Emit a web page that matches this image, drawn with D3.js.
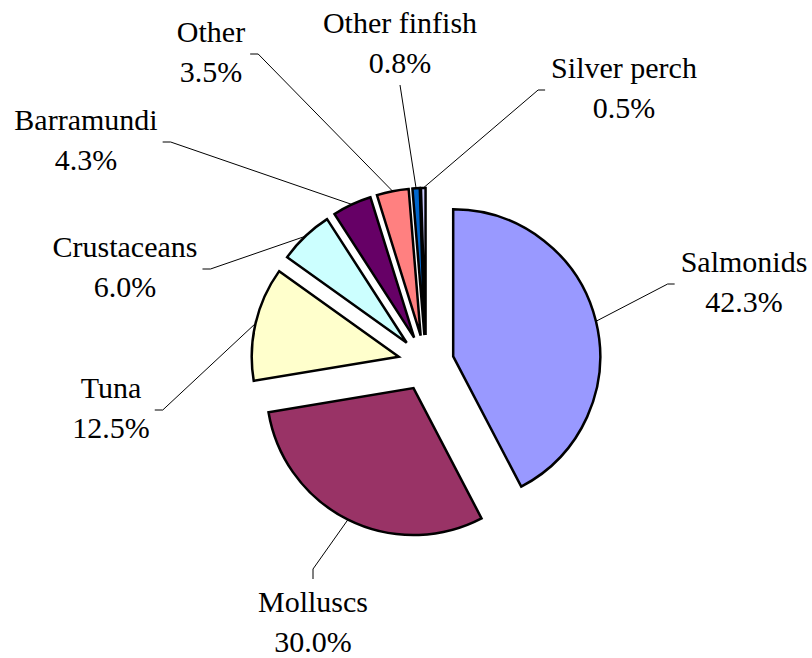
<!DOCTYPE html>
<html>
<head>
<meta charset="utf-8">
<script src="https://cdn.jsdelivr.net/npm/d3@7"></script>
<style>
  body{margin:0;background:#fff}
  svg{display:block}
</style>
</head>
<body>
<script>
var categories=["Salmonids","Molluscs","Tuna","Crustaceans","Barramundi","Other","Other finfish","Silver perch"]
var shares=[42.3,30.0,12.5,6.0,4.3,3.5,0.8,0.5]
var pctLabels=["42.3%","30.0%","12.5%","6.0%","4.3%","3.5%","0.8%","0.5%"]
var colors=["#9999FF","#993366","#FFFFCC","#CCFFFF","#660066","#FF8080","#0066CC","#CCCCFF"]

var draw=function()
{
  var screen={width:812,height:658}
  var center={x:426,y:363}
  var radius=147
  var explode=28
  var lineGap=40
  // where each label sits (centre x, first baseline) and which side the leader meets
  var labelLayout=[
    {x:744,y:272,side:"left"},
    {x:313,y:612,side:"top"},
    {x:111,y:398,side:"right"},
    {x:125,y:257,side:"right"},
    {x:86,y:130,side:"right"},
    {x:211,y:42,side:"right"},
    {x:400,y:33,side:"bottom"},
    {x:624,y:78,side:"left"}
  ]

  var data=categories.map(function(d,i){
    return {name:d,value:shares[i],label:pctLabels[i],color:colors[i],layout:labelLayout[i]}
  })

  var svg=d3.select("body").append("svg")
            .attr("width",screen.width)
            .attr("height",screen.height)

  var pie=d3.pie()
            .sort(null)
            .value(function(d){return d.value})
  var arc=d3.arc()
            .innerRadius(0)
            .outerRadius(radius)
  var arcs=pie(data)

  var dirOf=function(d){
    var a=(d.startAngle+d.endAngle)/2
    return [Math.sin(a),-Math.cos(a)]
  }

  var plot=svg.append("g")
              .attr("transform","translate("+center.x+","+center.y+")")

  //slices
  plot.selectAll("path.slice")
      .data(arcs)
      .enter()
      .append("path")
      .classed("slice",true)
      .attr("d",arc)
      .attr("transform",function(d){
        var v=dirOf(d)
        return "translate("+(v[0]*explode)+","+(v[1]*explode)+")"})
      .attr("fill",function(d){return d.data.color})
      .attr("stroke","#000")
      .attr("stroke-width",2.5)
      .attr("stroke-linejoin","miter")

  //labels
  var labels=svg.selectAll("g.label")
                .data(arcs)
                .enter()
                .append("g")
                .classed("label",true)
                .style("font-family","'Liberation Serif', 'Times New Roman', serif")
                .style("font-size","30px")
  labels.append("text")
        .attr("x",function(d){return d.data.layout.x})
        .attr("y",function(d){return d.data.layout.y})
        .attr("text-anchor","middle")
        .text(function(d){return d.data.name})
  labels.append("text")
        .attr("x",function(d){return d.data.layout.x})
        .attr("y",function(d){return d.data.layout.y+lineGap})
        .attr("text-anchor","middle")
        .text(function(d){return d.data.label})

  //leader lines
  labels.each(function(d){
    var g=d3.select(this)
    var box=this.getBBox()
    var lay=d.data.layout
    var v=dirOf(d)
    var start=[center.x+v[0]*(radius+explode),center.y+v[1]*(radius+explode)]
    var midY=lay.y+12
    var pts
    if(lay.side=="left") pts=[[box.x-6,midY],[box.x-13,midY],start]
    else if(lay.side=="right") pts=[[box.x+box.width+5,midY],[box.x+box.width+13,midY],start]
    else if(lay.side=="top") pts=[[lay.x,box.y-6],[lay.x,box.y-16],start]
    else pts=[[lay.x,box.y+box.height+6],start]
    g.append("path")
     .attr("d",d3.line()(pts))
     .attr("fill","none")
     .attr("stroke","#000")
     .attr("stroke-width",1)
  })
}

draw()
</script>
</body>
</html>
